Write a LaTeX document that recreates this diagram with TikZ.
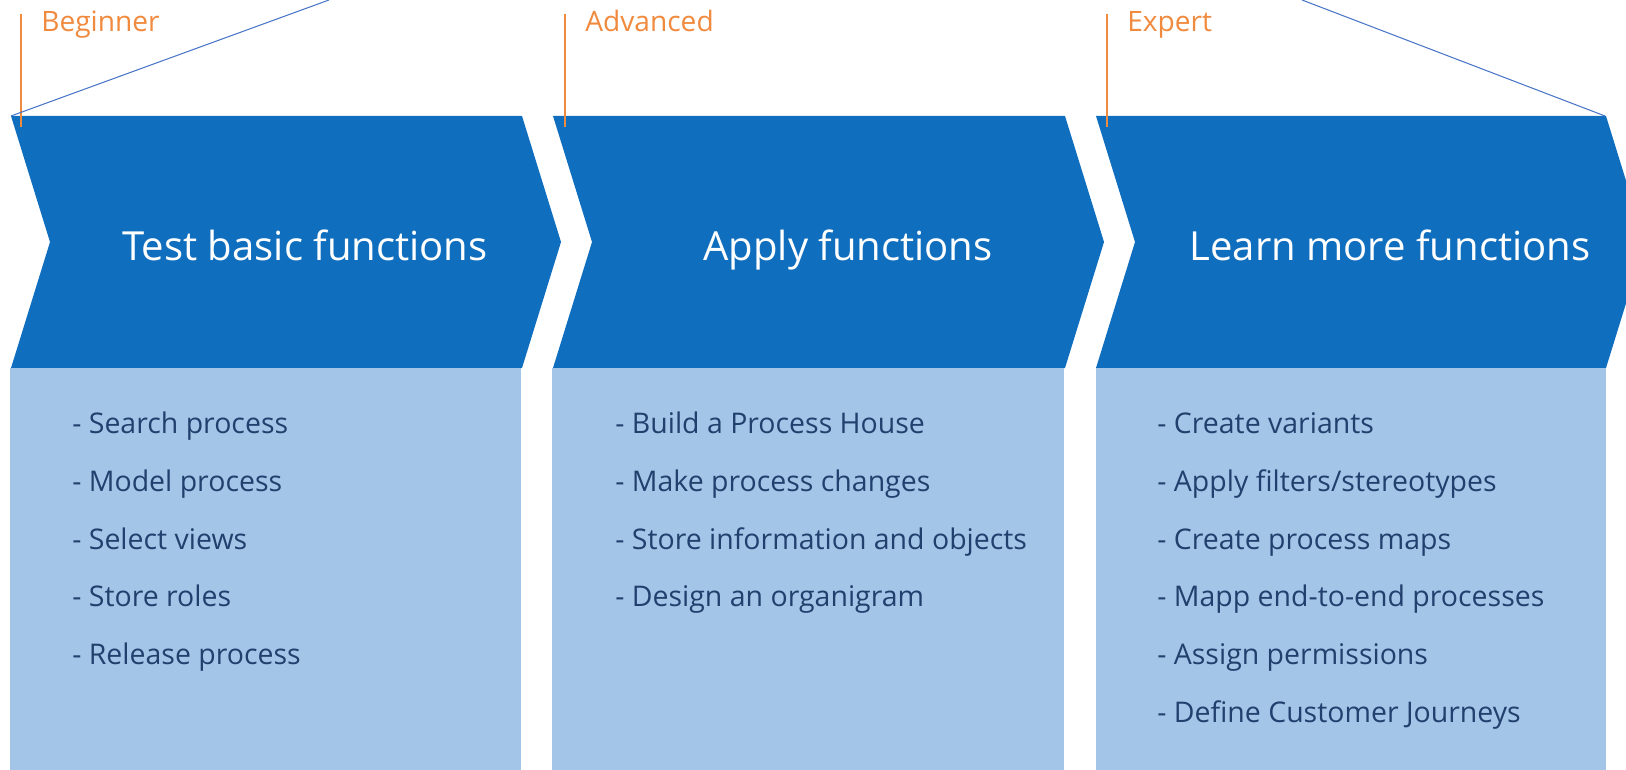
\documentclass[tikz,border=0pt]{standalone}
\usepackage{fontspec}
\setmainfont{Open Sans}
\definecolor{chevblue}{HTML}{106EBE}
\definecolor{boxblue}{HTML}{A3C6E8}
\definecolor{levelorange}{HTML}{F08A3E}
\definecolor{itemnavy}{HTML}{22406E}
\definecolor{zoomblue}{HTML}{4A76C8}
\begin{document}
\begin{tikzpicture}[x=0.02cm,y=-0.02cm,
  title/.style={anchor=base,text=white,inner sep=0pt,font=\fontsize{22.8}{28}\selectfont},
  items/.style={anchor=base west,text=itemnavy,align=left,inner sep=0pt,font=\fontsize{16.2}{32.8}\selectfont},
  level/.style={anchor=base west,text=levelorange,inner sep=0pt,font=\fontsize{16}{19}\selectfont},
  tick/.style={draw=levelorange,line width=0.6pt},
  zoomline/.style={draw=zoomblue,line width=0.6pt}]
\useasboundingbox (0,0) rectangle (1626,770);
% chevrons
\fill[chevblue] (11,116) -- (522,116) -- (561,242) -- (522,368) -- (11,368) -- (50,242) -- cycle;
\fill[chevblue] (553,116) -- (1065,116) -- (1104,242) -- (1065,368) -- (553,368) -- (592,242) -- cycle;
\fill[chevblue] (1096,116) -- (1606,116) -- (1645,242) -- (1606,368) -- (1096,368) -- (1135,242) -- cycle;
% boxes
\fill[boxblue] (10,368) rectangle (521,770);
\fill[boxblue] (552,368) rectangle (1064,770);
\fill[boxblue] (1096,368) rectangle (1606,770);
% titles
\node[title] (t1) at (305,260) {Test basic functions};
\node[title] (t2) at (848,260) {Apply functions};
\node[title] (t3) at (1390,260) {Learn more functions};
% lists (anchored on the last line)
\node[items] (l1) at (72,664.4) {- Search process\\- Model process\\- Select views\\- Store roles\\- Release process};
\node[items] (l2) at (615,606.8) {- Build a Process House\\- Make process changes\\- Store information and objects\\- Design an organigram};
\node[items] (l3) at (1157,722) {- Create variants\\- Apply filters/stereotypes\\- Create process maps\\- Mapp end-to-end processes\\- Assign permissions\\- Define Customer Journeys};
% levels
\coordinate (b0) at (21,14);
\coordinate (b1) at (21,127);
\coordinate (a0) at (565,14);
\coordinate (a1) at (565,127);
\coordinate (e0) at (1107,14);
\coordinate (e1) at (1107,127);
\draw[tick] (b0) -- (b1);
\draw[tick] (a0) -- (a1);
\draw[tick] (e0) -- (e1);
\node[level] (beg) at (41,32) {Beginner};
\node[level] (adv) at (585,32) {Advanced};
\node[level] (exp) at (1127,32) {Expert};
% zoom lines
\coordinate (z1) at (11,116);
\coordinate (z1t) at (329,0);
\coordinate (z2) at (1605,116);
\coordinate (z2t) at (1302,0);
\draw[zoomline] (z1) -- (z1t);
\draw[zoomline] (z2) -- (z2t);
\end{tikzpicture}
\end{document}
